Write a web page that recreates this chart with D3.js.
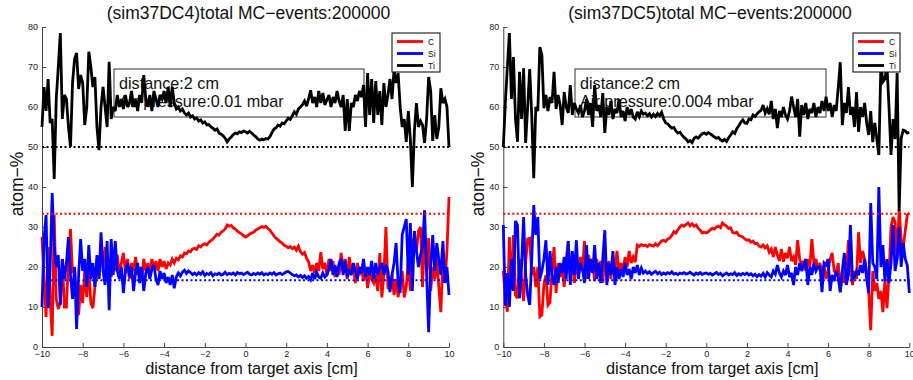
<!DOCTYPE html>
<html>
<head>
<meta charset="utf-8">
<script src="https://cdn.jsdelivr.net/npm/d3@7"></script>
<style>
  body { margin: 0; background: #fff; }
  svg { display: block; }
  text { font-family: "Liberation Sans", Arial, Helvetica, sans-serif; }
</style>
</head>
<body>
<svg id="chart" width="913" height="380"></svg>
<script>
// Sampling grid along the target axis: -10 cm ... 10 cm in 0.1 cm steps
const xStart = -10;
const xStep = 0.1;

const elements = ["C", "Si", "Ti"];
const xTicks = [-10, -8, -6, -4, -2, 0, 2, 4, 6, 8, 10];
const yTicks = [0, 10, 20, 30, 40, 50, 60, 70, 80];
// nominal stoichiometric levels (atom-%) for C, Si, Ti
const refLevels = [33.33, 16.67, 50];

const titles = ["(sim37DC4)total MC\u2212events:200000", "(sim37DC5)total MC\u2212events:200000"];
const infoLines = [
  ["distance:2 cm", "Air pressure:0.01 mbar"],
  ["distance:2 cm", "Air pressure:0.004 mbar"]
];

// sim37DC4 (0.01 mbar)
const leftC = [27.5,17,7.5,25,12,2.8,33,12,9.5,11,
22,10,10,22,29.5,18.5,20,12,8,15.5,
11,19,12.5,20,11,9.7,15,22,17,23,
20,25,19,22,17.5,21,19,23,18,21,
23.5,18.5,22,17,21,19,22.5,18,20,17,
22,19,21,18.5,22,19.5,21.5,19,22,20,
21.5,19.5,21,20.5,22,21,22.2,21.8,22.8,22.5,
23.5,23.3,24,23.8,24.5,24.7,24.4,25.3,25,25.6,
25.8,25.5,26.2,26.6,27,27.6,28.2,28,28.7,29,
29.5,30.5,30.2,30.4,29.8,29.5,29,28.6,28.3,27.8,
27.5,27.8,28.2,28.5,28.7,29.2,29.5,29.8,30.1,29.9,
30.2,29.6,29.2,28.5,27.8,27.2,26.8,26.3,26,25.4,
25.2,24.8,25.1,24.6,25,24.2,25.2,23.8,23.2,23.6,
22.2,21.3,19,20.5,18.5,21,19,23.7,19.5,21,
18,22,19,21.5,17.5,20,18,23.5,19.5,22,
17,22.5,19,20,16,21,18,19.5,16.5,20,
14.7,19,17,16,18,14,23.5,12.4,18,30,
14.5,16,18,13,17,12.5,16,19,12.4,15,
22,14,27,26,24,29,30,15,28.5,19,
27.2,14,20,17,22,15,8.7,22,16,24,
37.5];

const leftSi = [10,27,33,9.7,20,38.5,25,20,23,10.5,
22,17,21,27.5,18,12,20,4.5,18,27,
19,22,15,25.5,17,21,15,23,17,28.7,
19,15.5,26.5,9.2,27,18,26.5,19,17,20,
13.5,19,21,17.5,20,14,19,21,16,20,
14,18.5,20,17,19.5,20.5,17,15.5,19,17,
18.5,16,17.5,15.5,18,14.7,17.5,18.5,17.8,18.7,
19.2,18.4,19,18.6,18.1,18.5,18,18.6,18.2,18.8,
17.9,18.4,18.1,18.6,17.8,18.3,18.1,18.5,18,18.2,
18.7,18.1,18.4,18.2,18.5,18,18.6,18.3,18.5,18.1,
18.4,18.7,18.2,18,18.4,18.1,18.5,18.2,18.6,18,
18.3,18.1,18.5,18.2,18.6,18,18.3,18.5,18.1,18.4,
18.8,18.9,18.5,18.1,17.8,18,17.5,17.9,17.4,17.8,
17.2,17.6,16.8,18.5,17,18.6,17.5,17.2,18.5,17.5,
18,19.5,22,18,20.5,17.5,21,22,18,21.5,
17.5,19,18,21,19,17,20,18.5,22,17.5,
20,18,21.5,17,21,18,20,21,18,20.5,
19,13.7,18,21,26,16,13.5,28,30,32,
18,31,14,29,24,20,23,25,34.2,18,
3.7,20,28,19,26,22,18,26.5,16,20,
13];

const leftTi = [55,65,59,67,56,57,42,62,70,78.5,
57,63,62,55,50,66,72,73.5,64.5,68,
66,55.5,60,73.8,70,65,67.5,55,49.2,60,
65,60,55,71.3,57,60,59,63,60,62,
59.5,63,60,61,64,60,62,59,63,61,
68,62,60,63,59,64,62,60,63,62,
64,61,65,60,65,61,59.5,60,59,59.5,
58.5,58,58.5,57.5,57.8,57,57.3,56.5,56.8,56,
56.3,55.5,55.6,55,54.7,54.2,54.5,53.5,53.2,52.8,
52.2,51.3,52,52.5,53.1,53.5,53.3,53.8,53.6,54,
53.8,53.5,53.9,53.5,53,52.6,52,51.7,52,51.8,
52.1,52,52.6,53.6,54.5,54.8,55.5,55.2,56,55.8,
56.5,57.2,56.9,57.8,58.8,58.2,59.5,60,60.6,61.5,
60.2,62,64.2,61,62.5,60,64,61,63.5,60.5,
61.8,63,60,62.5,61,64,61.5,60,63,54,
62,54,61,60,63,61.5,64,62.5,65.5,55,
68.5,58,67,56,66.5,58,64,55.5,66,60,
63,67,62,69.2,66,68.5,60,55,57,51.3,
59,52,40,54,61,55,56.5,55.5,51,57,
67.5,64,51.5,58,52,55,64.7,61,62,60,
50];

// sim37DC5 (0.004 mbar)
const rightC = [19,12.5,8.8,27.5,14.2,28,13,12.2,22,17,
11.5,21,27,27.2,18,20,15,20,7.6,8,
15.5,18,10.5,11.2,19,25,13.5,21,17.5,20,
15,22,26.5,17,22,16,21,18,22.5,19,
26.5,17,23,19.5,21,16.5,22,19,21.5,16,
23,18,21.5,17,22,19.5,24,18.5,21,19,
22.5,20,24,21,22.5,21.2,25.5,25.2,25.6,25.3,
25.5,25.1,25.6,25.4,25.2,25.8,25.3,25.9,26.5,26.7,
26.4,27,27.2,27.9,28.8,28.5,29.3,30,30.5,30.2,
30.6,31,30.3,30.8,30.2,30.5,29.7,29.2,28.5,28.7,
28.5,28.8,29.3,29.7,29.5,30,30.2,29.8,31,30.5,
30.2,29.6,29.8,28.6,28.5,28.7,27.9,27.7,27.5,27,
26.7,26.8,26.2,26.5,25.8,25.9,25.2,25,25.5,24.8,
25.3,23.7,24.5,22.5,25,23,21.5,24.5,21.3,23.5,
22.2,25,21.5,22.5,20.5,26.7,22,20.5,21.5,19,
22,20,27,21,22,19.5,21,18,20.5,17,
19,22,23.5,19,18.5,21,13.7,19,16,18,
26.7,20,15.5,19,17,28.7,21,24,22,19,
14,4.2,19,14,16,12,14,8.7,17,9.7,
18,30,32.5,31.2,22,34.5,26.7,25,29,33,
33.5];

const rightSi = [30.5,10.3,18.5,10,22,14,31.5,30.5,12.2,20,
32.5,18,13,10.5,22,35.5,28,32.5,17,19,
22,26.7,15.5,24,18,15.5,20,16,21,18.5,
22.5,17,26.5,15.5,24,18,26.7,17,21,19.5,
16,25.5,17,22,18.5,25.5,17,21,16,22,
29.2,15.5,21,18,24,15.5,20,17,19.5,17.5,
21,18,19.5,17,20,18.5,20.5,18,19.7,18.5,
19,18.4,18.8,18.2,18.6,18.9,18.3,18.7,18.1,18.5,
18.2,18.6,18.3,18.8,18.2,18.4,18.1,18.5,18.3,18.6,
18.2,18.4,18.7,18.3,18,18.5,18.2,18.6,18.1,18.4,
18.5,18.2,18.4,18,18.3,18.6,18.1,18.4,17.8,18.2,
18.5,18,18.3,18.1,18.6,17.9,18.3,18,18.4,18.1,
18.5,18,18.3,17.8,18.2,17.6,18.1,17.7,18.4,17.5,
18.6,18,17.5,19,18.2,20.5,18.5,17.5,19,18,
20.5,17.5,18.5,15.5,20,18,21,19,20.5,22,
15.5,20,18,21,19,20,20,13.7,21,20.5,
22,14,18,16.5,19,17.5,13.7,19,23.5,15.5,
18,30.5,17,17.5,19,18,20.5,18.5,22,17,
13.5,36,21,20,17,40,20,25.5,16.5,22,
16,21,30.5,19,22,30,20,26,22,20.5,
13.5];

const rightTi = [50,61,70,78.5,62,72.5,57,51.3,68.8,57,
69.7,51,60,69.5,58,42.2,60,59,75,73,
59.7,63,59,62.5,61,68.8,59.5,63,60.5,55.5,
63.7,60,58.5,65.5,58,61,59.5,58.5,60.5,57.5,
59,62,58,61,55,65.5,59,60.5,57.5,63.5,
53.5,60,58,61.5,57,59.5,58.5,62,57.5,59,
56.5,60,58,59.5,57.5,57,58.8,57.6,59,58.2,
58.5,57.8,58.3,57.5,58.2,57.6,58.4,57.8,58.7,57,
56,55.8,55.2,54.7,54.9,54,53.5,53.7,53,52.4,
52,51.3,51.6,51.1,52.2,52.5,52.2,52.8,53.3,53.5,
53.2,53.6,53.3,52.9,52.5,52.2,52.4,51.8,51.5,51.9,
51.4,52.3,53,53.8,53.4,54.6,55.3,56.2,56.8,56,
55.9,57,56.8,58,57.6,58.3,58.8,59.2,60.5,58.5,
59.6,58.2,61.5,57,59.5,54.7,59,57.5,60,58,
57,59,62.6,60,57.5,62,52.6,60.5,58,61,
57,59.5,58.5,61,57.5,60,58.5,61.5,59,62.6,
59,61,57.5,60.5,59,65,71.2,55.5,61,58.5,
65,58,60,55,63.7,53.8,60,57.5,61,56,
53,59,51.2,56,52,48,70.5,66.3,67,70.5,
60,48,57,52,68.5,34,52.2,54.2,54,53.5,
53.7];

const colors = { C: "#ff0000", Si: "#0000ff", Ti: "#000000" };

const panels = [
  { title: titles[0], info: infoLines[0], series: { C: leftC, Si: leftSi, Ti: leftTi },
    xRange: [42, 449], titleX: 248.5, xLabelX: 251.5, yLabelX: 23,
    infoBox: [114, 69, 250, 48], legendBox: [392, 33, 48, 39] },
  { title: titles[1], info: infoLines[1], series: { C: rightC, Si: rightSi, Ti: rightTi },
    xRange: [503.3, 909.3], titleX: 710, xLabelX: 712.3, yLabelX: 483.5,
    infoBox: [575, 69, 251, 48], legendBox: [853, 33, 47, 39] }
];

const svg = d3.select("#chart");
svg.append("rect").attr("width", 913).attr("height", 380).attr("fill", "#fff");

const yScale = d3.scaleLinear().domain([0, 80]).range([347, 27]);

panels.forEach(p => {
  const x = d3.scaleLinear().domain([-10, 10]).range(p.xRange);
  const g = svg.append("g");

  // annotation box (drawn first so the curves run over it)
  const [bx, by, bw, bh] = p.infoBox;
  g.append("rect").attr("x", bx).attr("y", by).attr("width", bw).attr("height", bh)
    .attr("fill", "none").attr("stroke", "#333").attr("stroke-width", 1);
  p.info.forEach((t, i) => {
    g.append("text").attr("x", bx + 5).attr("y", by + 20 + i * 17.5)
      .attr("font-size", 16.2).attr("fill", "#111").text(t);
  });

  // axes (MATLAB-style inward ticks, no box)
  const xAxis = d3.axisBottom(x).tickValues(xTicks).tickSizeInner(-4).tickSizeOuter(0).tickPadding(4)
    .tickFormat(d3.format("d"));
  const yAxis = d3.axisLeft(yScale).tickValues(yTicks).tickSizeInner(-4).tickSizeOuter(0).tickPadding(4);
  const gx = g.append("g").attr("transform", "translate(0,347)").call(xAxis);
  const gy = g.append("g").attr("transform", `translate(${p.xRange[0]},0)`).call(yAxis);
  [gx, gy].forEach(a => {
    a.select(".domain").attr("stroke", "#444").attr("stroke-width", 1);
    a.selectAll(".tick line").attr("stroke", "#444");
    a.selectAll(".tick text").attr("font-size", 9).attr("fill", "#222")
      .attr("font-family", "'Liberation Sans', Arial, sans-serif");
  });

  // composition curves
  const line = d3.line()
    .x((d, i) => x(xStart + i * xStep))
    .y(d => yScale(d));
  elements.forEach(el => {
    g.append("path").datum(p.series[el])
      .attr("d", line)
      .attr("fill", "none")
      .attr("stroke", colors[el])
      .attr("stroke-width", 2.8)
      .attr("stroke-linejoin", "miter")
      .attr("stroke-miterlimit", 3);
  });

  // stoichiometric reference levels
  elements.forEach((el, i) => {
    g.append("line")
      .attr("x1", x(-10)).attr("x2", x(10))
      .attr("y1", yScale(refLevels[i])).attr("y2", yScale(refLevels[i]))
      .attr("stroke", colors[el]).attr("stroke-width", 2)
      .attr("stroke-dasharray", "2,2.5");
  });

  // legend
  const [lx, ly, lw, lh] = p.legendBox;
  g.append("rect").attr("x", lx).attr("y", ly).attr("width", lw).attr("height", lh)
    .attr("fill", "#fff").attr("stroke", "#000").attr("stroke-width", 1);
  elements.forEach((el, i) => {
    const yy = ly + 8.5 + i * 12;
    g.append("line").attr("x1", lx + 5).attr("x2", lx + 31).attr("y1", yy).attr("y2", yy)
      .attr("stroke", colors[el]).attr("stroke-width", 2.8);
    g.append("text").attr("x", lx + 36).attr("y", yy + 3.2)
      .attr("font-size", 8.5).attr("fill", "#111").text(el);
  });

  // title and axis labels
  g.append("text").attr("x", p.titleX).attr("y", 19).attr("text-anchor", "middle")
    .attr("font-size", 17.5).attr("fill", "#111").text(p.title);
  g.append("text").attr("x", p.xLabelX).attr("y", 374).attr("text-anchor", "middle")
    .attr("font-size", 16.3).attr("fill", "#111").text("distance from target axis [cm]");
  g.append("text").attr("transform", `translate(${p.yLabelX},184) rotate(-90)`)
    .attr("text-anchor", "middle").attr("font-size", 17.5).attr("fill", "#111").text("atom\u2212%");
});
</script>
</body>
</html>
